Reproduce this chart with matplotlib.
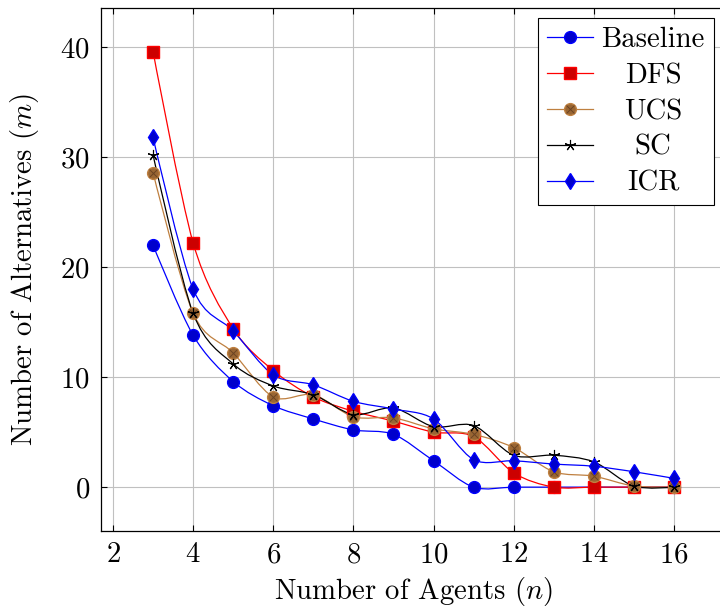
import matplotlib
matplotlib.use('Agg')
import matplotlib.pyplot as plt
from matplotlib.path import Path
from matplotlib.patches import PathPatch
from matplotlib.lines import Line2D
import numpy as np

plt.rcParams['font.family'] = 'serif'
plt.rcParams['font.serif'] = ['cmr10']
plt.rcParams['mathtext.fontset'] = 'cm'
plt.rcParams['axes.formatter.use_mathtext'] = True
plt.rcParams['font.size'] = 20.7

# number of agents
agents = [3, 4, 5, 6, 7, 8, 9, 10, 11, 12, 13, 14, 15, 16]

# number of alternatives per method
baseline = [22.0, 13.8, 9.6, 7.4, 6.2, 5.2, 4.8, 2.4, 0.0, 0.0, 0.0, 0.0, 0.0, 0.0]
dfs = [39.6, 22.2, 14.4, 10.6, 8.2, 6.9, 6.0, 5.0, 4.6, 1.3, 0.0, 0.0, 0.0, 0.0]
ucs = [28.6, 15.8, 12.2, 8.2, 8.4, 6.4, 6.3, 5.3, 4.8, 3.6, 1.4, 1.0, 0.1, 0.0]
sc = [30.2, 15.8, 11.2, 9.2, 8.4, 6.6, 7.2, 5.5, 5.6, 2.9, 2.9, 2.3, 0.1, 0.0]
icr = [31.8, 18.0, 14.2, 10.2, 9.3, 7.8, 7.1, 6.2, 2.5, 2.4, 2.1, 1.9, 1.4, 0.8]

x_ticks = [2, 4, 6, 8, 10, 12, 14, 16]
y_ticks = [0, 10, 20, 30, 40]


def smooth_path(xs, ys, tension=0.55):
    # cubic bezier through the points, same idea as tikz "smooth"
    pts = np.column_stack([xs, ys]).astype(float)
    n = len(pts)
    k = 0.2775 * tension
    tang = np.zeros_like(pts)
    for i in range(1, n - 1):
        tang[i] = pts[i + 1] - pts[i - 1]
    verts = [pts[0]]
    codes = [Path.MOVETO]
    for i in range(n - 1):
        verts.append(pts[i] + k * tang[i])
        verts.append(pts[i + 1] - k * tang[i + 1])
        verts.append(pts[i + 1])
        codes += [Path.CURVE4] * 3
    return Path(verts, codes)


fig = plt.figure(figsize=(7.2, 6.09), dpi=100)
ax = fig.add_axes([101 / 720, (609 - 530.7) / 609, 625 / 720, 522.7 / 609])

lw = 0.9
series = [
    ('Baseline', baseline, 'blue', dict(marker='o', markersize=8.5, markerfacecolor='#0000cc', markeredgecolor='blue')),
    ('DFS', dfs, 'red', dict(marker='s', markersize=8.5, markerfacecolor='#cc0000', markeredgecolor='red')),
    ('UCS', ucs, '#bf8040', dict(marker='o', markersize=8.5, markerfacecolor='#996633', markeredgecolor='#bf8040')),
    ('SC', sc, 'black', dict(marker=(5, 2, 0), markersize=8, markeredgecolor='black', markeredgewidth=0.8)),
    ('ICR', icr, 'blue', dict(marker='d', markersize=8, markerfacecolor='#0000cc', markeredgecolor='blue')),
]

handles = []
for name, vals, col, mk in series:
    ax.add_patch(PathPatch(smooth_path(agents, vals), facecolor='none', edgecolor=col, lw=lw, zorder=3))
    ax.plot(agents, vals, linestyle='none', zorder=4, **mk)
    h = Line2D([], [], color=col, lw=lw, **mk)
    if name == 'UCS':
        cross = dict(marker='x', markersize=5.5, markeredgecolor='#6b4423', markeredgewidth=0.7, linestyle='none')
        ax.plot(agents, vals, zorder=4, **cross)
        h = (h, Line2D([], [], **cross))
    handles.append(h)

ax.set_xlim(1.7, 17.3)
ax.set_ylim(-3.96, 43.56)
ax.set_xticks(x_ticks)
ax.set_yticks(y_ticks)
ax.grid(True, color='#c0c0c0', lw=0.8)
ax.set_axisbelow(True)
ax.tick_params(direction='in', top=True, right=True, length=4, width=0.8, pad=8)
for sp in ax.spines.values():
    sp.set_linewidth(0.9)

ax.set_xlabel('Number of Agents ($n$)', labelpad=5)
ax.set_ylabel('Number of Alternatives ($m$)', labelpad=14)

leg = ax.legend(handles, [s[0] for s in series], loc='upper right', bbox_to_anchor=(0.98, 0.98),
                borderaxespad=0, fancybox=False, edgecolor='black', framealpha=1, numpoints=1,
                handlelength=1.6, labelspacing=0.33, handletextpad=0.3, borderpad=0.3)
leg.get_frame().set_linewidth(0.8)

# center legend labels in their column
fig.canvas.draw()
r = fig.canvas.get_renderer()
widths = [t.get_window_extent(r).width for t in leg.get_texts()]
wmax = max(widths)
for t, w in zip(leg.get_texts(), widths):
    t.set_position(((wmax - w) / 2, 0))

fig.savefig('out.png', dpi=100)
